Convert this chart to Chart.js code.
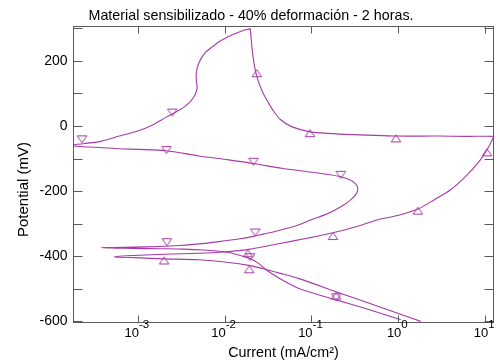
<!DOCTYPE html>
<html>
<head>
<meta charset="utf-8">
<script src="https://cdn.jsdelivr.net/npm/chart.js@4"></script>
<style>
html,body{margin:0;padding:0;background:#fff;}
#wrap{width:500px;height:364px;position:relative;}
</style>
</head>
<body>
<div id="wrap"><canvas id="c"></canvas></div>
<script>
// Forward sweep: cathodic branch -> Ecorr -> active peak -> passive region -> vertex
const fwdCurrent = [1.81, 0.982, 0.446, 0.192, 0.0704, 0.0416, 0.0295, 0.0189, 0.0111, 0.00506, 0.00201, 0.00104, 0.000614, 0.000538,
  0.000614, 0.00104, 0.00201, 0.00506, 0.00977, 0.0189, 0.0450, 0.0917, 0.177, 0.342, 0.580, 0.982, 1.66, 2.58, 4.00, 6.21, 8.81, 11.0, 12.3, 12.8,
  6.21, 2.82, 0.931, 0.446, 0.219, 0.0959, 0.0591, 0.0438, 0.0365, 0.0320, 0.0284, 0.0257, 0.0236, 0.0225, 0.0215, 0.0206, 0.0201, 0.0197];
const fwdPotential = [-600, -575, -543, -509, -468, -451, -440, -428, -419, -411, -408, -405, -403, -402,
  -400, -397, -394, -391, -387, -379, -360, -344, -328, -308, -288, -275, -256, -227, -196, -150, -104, -64, -38, -32,
  -32, -31, -31, -28, -25, -18, -2, 20, 46, 71, 95, 121, 150, 172, 203, 243, 276, 299];

// Reverse sweep: from the vertex back down to the starting potential
const revCurrent = [0.0197, 0.0145, 0.0111, 0.00856, 0.00712, 0.00592, 0.00526, 0.00486, 0.00471, 0.00473, 0.00483, 0.00455, 0.00409, 0.00350, 0.00299, 0.00248, 0.00191, 0.00148, 0.00104, 0.000614, 0.000363, 0.000244, 0.000193, 0.000169,
  0.000214, 0.000363, 0.000614, 0.00104, 0.00214, 0.00506, 0.0111, 0.0215, 0.0454, 0.109, 0.211, 0.263, 0.304, 0.333, 0.342, 0.332, 0.308, 0.274, 0.237, 0.187, 0.142, 0.0992, 0.0704, 0.0513, 0.0381, 0.0280, 0.0215, 0.0145, 0.00856, 0.00506, 0.00299, 0.00176, 0.000912, 0.000538, 0.000379,
  0.000538, 0.000912, 0.00176, 0.00340, 0.00577, 0.0102, 0.0145, 0.0199, 0.0246, 0.0295, 0.0416, 0.0704, 0.192, 0.446, 1.07];
const revPotential = [299, 288, 275, 258, 242, 224, 203, 181, 160, 138, 117, 95, 77, 60, 48, 37, 20, 3, -14, -31, -48, -54, -57, -60,
  -63, -66, -70, -72, -76, -92, -104, -115, -130, -143, -155, -163, -172, -183, -193, -206, -218, -230, -242, -258, -273, -288, -304, -315, -324, -332, -339, -347, -355, -362, -367, -370, -372, -373, -374,
  -375, -376, -377, -378, -381, -387, -396, -408, -422, -440, -466, -498, -534, -563, -595];

// Sample markers: up triangles on the forward sweep, down triangles on the reverse sweep
const upCurrent = [0.192, 0.0192, 0.00201, 0.0185, 0.177, 1.68, 10.5, 0.939, 0.0959, 0.0235];
const upPotential = [-521, -440, -413, -391, -338, -260, -81, -38, -22, 162];
const downCurrent = [0.00250, 0.000228, 0.00214, 0.0215, 0.217, 0.0225, 0.00216, 0.0197, 0.193];
const downPotential = [41, -41, -74, -110, -150, -327, -357, -403, -526];

// Axis ticks and labels
const xTickPowers = [-3, -2, -1, 0, 1];
const yTickValues = [-600, -500, -400, -300, -200, -100, 0, 100, 200, 300];
const yLabelValues = [-600, -400, -200, 0, 200];
const chartTitle = 'Material sensibilizado - 40% deformación - 2 horas.';
const xTitle = 'Current (mA/cm²)';
const yTitle = 'Potential (mV)';

const purple = '#a63aa6';
const axisGrey = '#5a5a5a';
const FONT = "'Liberation Sans', Arial, Helvetica, sans-serif";

function pairs(xs, ys) { return xs.map((x, i) => ({ x: x, y: ys[i] })); }

function triangleImage(up) {
  const c = document.createElement('canvas');
  c.width = 12; c.height = 10;
  const g = c.getContext('2d');
  g.strokeStyle = purple;
  g.lineWidth = 1;
  g.beginPath();
  if (up) { g.moveTo(6, 1.5); g.lineTo(10.8, 8.5); g.lineTo(1.2, 8.5); }
  else { g.moveTo(1.2, 1.5); g.lineTo(10.8, 1.5); g.lineTo(6, 8.5); }
  g.closePath();
  g.stroke();
  return c;
}

// Box frame, inward tick marks and all the text around the plot
const framePlugin = {
  id: 'frame',
  afterDraw(chart) {
    const ctx = chart.ctx, a = chart.chartArea, x = chart.scales.x, y = chart.scales.y;
    ctx.save();
    ctx.strokeStyle = axisGrey;
    ctx.lineWidth = 1;
    const L = Math.round(a.left) + 0.5, R = Math.round(a.right) - 0.5;
    const T = Math.round(a.top) + 0.5, B = Math.round(a.bottom) - 0.5;
    ctx.strokeRect(L, T, R - L, B - T);
    ctx.beginPath();
    yTickValues.forEach(v => {
      const py = Math.round(y.getPixelForValue(v)) + 0.5;
      ctx.moveTo(L, py); ctx.lineTo(L + 9, py);
      ctx.moveTo(R, py); ctx.lineTo(R - 9, py);
    });
    xTickPowers.forEach(p => {
      const px = Math.round(x.getPixelForValue(Math.pow(10, p))) + 0.5;
      ctx.moveTo(px, B); ctx.lineTo(px, B - 7);
      ctx.moveTo(px, T); ctx.lineTo(px, T + 7);
    });
    ctx.stroke();

    ctx.fillStyle = '#000';
    ctx.textBaseline = 'alphabetic';

    // x tick labels as powers of ten
    xTickPowers.forEach(p => {
      const px = x.getPixelForValue(Math.pow(10, p));
      ctx.font = '13px ' + FONT;
      const wb = ctx.measureText('10').width;
      ctx.font = '11.5px ' + FONT;
      const sup = String(p);
      const ws = ctx.measureText(sup).width;
      const x0 = px - (wb + ws) / 2 - 1;
      ctx.textAlign = 'left';
      ctx.font = '13px ' + FONT;
      ctx.fillText('10', x0, a.bottom + 14);
      ctx.font = '11.5px ' + FONT;
      ctx.fillText(sup, x0 + wb, a.bottom + 4.5);
    });

    // chart title
    ctx.textAlign = 'center';
    ctx.font = '14.3px ' + FONT;
    ctx.fillText(chartTitle, 251, 20);

    // x axis title
    ctx.fillText(xTitle, (a.left + a.right) / 2, 357);

    // y axis title
    ctx.save();
    ctx.translate(28, 189.5);
    ctx.rotate(-Math.PI / 2);
    ctx.font = '15px ' + FONT;
    ctx.fillText(yTitle, 0, 0);
    ctx.restore();

    ctx.restore();
  }
};

new Chart(document.getElementById('c'), {
  type: 'scatter',
  data: {
    datasets: [
      { data: pairs(fwdCurrent, fwdPotential), showLine: true, borderColor: purple, borderWidth: 1.1, pointRadius: 0, tension: 0.25, fill: false },
      { data: pairs(revCurrent, revPotential), showLine: true, borderColor: purple, borderWidth: 1.1, pointRadius: 0, tension: 0.25, fill: false },
      { data: pairs(upCurrent, upPotential), showLine: false, pointStyle: triangleImage(true), pointRadius: 5, borderColor: purple },
      { data: pairs(downCurrent, downPotential), showLine: false, pointStyle: triangleImage(false), pointRadius: 5, borderColor: purple }
    ]
  },
  options: {
    responsive: true,
    maintainAspectRatio: false,
    animation: false,
    layout: { padding: { top: 26, right: 3, left: 0, bottom: 0 } },
    plugins: { legend: { display: false }, tooltip: { enabled: false }, title: { display: false } },
    scales: {
      x: {
        type: 'logarithmic',
        position: 'bottom',
        min: 1.795e-4,
        max: 12.64,
        grid: { display: false, drawTicks: false },
        border: { display: false },
        ticks: { display: false },
        afterBuildTicks(s) { s.ticks = xTickPowers.map(p => ({ value: Math.pow(10, p) })); },
        afterFit(s) { s.height = 41; }
      },
      y: {
        type: 'linear',
        position: 'left',
        min: -605,
        max: 307,
        grid: { display: false, drawTicks: false },
        border: { display: false },
        afterBuildTicks(s) { s.ticks = yTickValues.map(v => ({ value: v })); },
        ticks: {
          padding: 5.5,
          color: '#000',
          font: { family: FONT, size: 14 },
          callback: v => (yLabelValues.indexOf(v) >= 0 ? String(v) : '')
        },
        afterFit(s) { s.width = 73; }
      }
    }
  },
  plugins: [framePlugin]
});
</script>
</body>
</html>
